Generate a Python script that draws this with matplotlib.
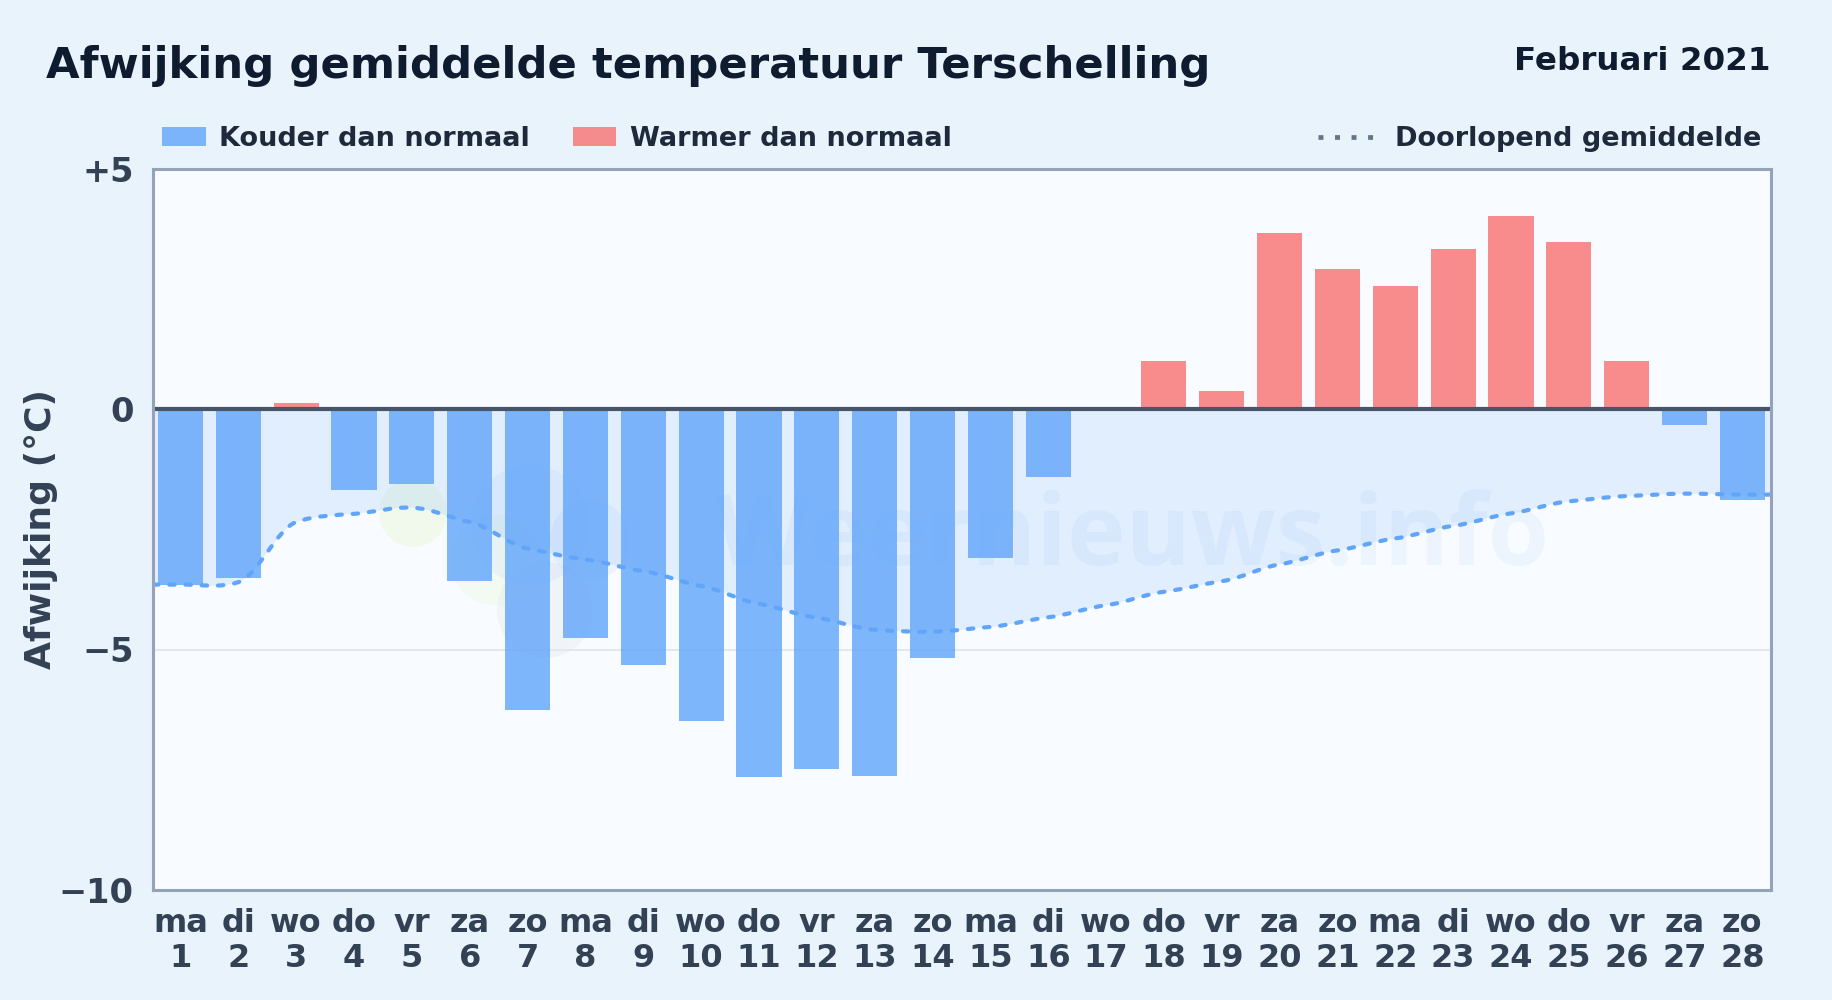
import numpy as np
import matplotlib
matplotlib.use("Agg")
import matplotlib.pyplot as plt
from matplotlib.patches import Circle, PathPatch, Rectangle
from matplotlib.path import Path
from matplotlib.lines import Line2D
from matplotlib.transforms import IdentityTransform

# Values
weekdays = ["ma", "di", "wo", "do", "vr", "za", "zo"] * 4
days = list(range(1, 29))
deviation = [-3.65, -3.52, 0.12, -1.68, -1.55, -3.57, -6.25, -4.76, -5.32, -6.49,
             -7.66, -7.48, -7.63, -5.18, -3.09, -1.41, 0.02, 1.0, 0.37, 3.65,
             2.92, 2.55, 3.33, 4.02, 3.47, 1.0, -0.34, -1.9]
running_mean = [-3.65, -3.6, -2.35, -2.18, -2.05, -2.35, -2.9, -3.13, -3.37, -3.68,
                -4.05, -4.34, -4.59, -4.63, -4.53, -4.33, -4.08, -3.8, -3.58, -3.23,
                -2.94, -2.69, -2.43, -2.17, -1.92, -1.81, -1.76, -1.78]
y_ticks = [5, 0, -5, -10]
y_tick_labels = ["+5", "0", "\u22125", "\u221210"]

BLUE = "#60a5fa"
RED = "#f87171"
DARK = "#0f1b2e"
TEXT = "#334155"
LEGEND_TEXT = "#1e293b"
W, H = 1832, 1000


def spline_path(x, y, tension=0.1):
    """Bezier path through the points, so the mean line bends softly"""
    verts = [(x[0], y[0])]
    codes = [Path.MOVETO]
    for i in range(len(x) - 1):
        prev_y = y[max(i - 1, 0)]
        next_y = y[min(i + 2, len(y) - 1)]
        dx = (x[i + 1] - x[i]) / 3
        verts.append((x[i] + dx, y[i] + (y[i + 1] - prev_y) * tension))
        verts.append((x[i + 1] - dx, y[i + 1] - (next_y - y[i]) * tension))
        verts.append((x[i + 1], y[i + 1]))
        codes += [Path.CURVE4] * 3
    return verts, codes


def logo_blob(ax, x, y, r, color, alpha):
    """Faint circle of the watermark logo, placed in picture pixels"""
    ax.add_patch(Circle((x, H - y), r, transform=IdentityTransform(), facecolor=color,
                        edgecolor="none", alpha=alpha, zorder=0.5))


fig = plt.figure(figsize=(W / 100, H / 100), dpi=100, facecolor="#e8f3fc")
plt.rcParams["font.family"] = "DejaVu Sans"

ax = fig.add_axes([153 / W, 1 - 890 / H, (1771 - 153) / W, (890 - 168.5) / H])
ax.set_facecolor("#f8fbff")
ax.set_xlim(0.525, 28.495)
ax.set_ylim(-10, 5)

# Watermark behind the marks
ax.text(1132 / W, 1 - 565 / H, "Weernieuws.info", transform=fig.transFigure,
        fontsize=71.5, family="Open Sans", fontweight="bold", color=BLUE, alpha=0.08,
        ha="center", va="baseline", zorder=0.5)
logo_blob(ax, 413, 513, 34, "#bef264", 0.12)
logo_blob(ax, 495, 560, 45, "#bef264", 0.08)
logo_blob(ax, 530, 525, 60, "#3b82f6", 0.06)
logo_blob(ax, 590, 540, 40, "#3b82f6", 0.06)
logo_blob(ax, 545, 610, 48, "#64748b", 0.05)

ax.grid(axis="y", color="#dfe5ea", linewidth=1.2, zorder=1)
ax.set_axisbelow(True)

# Area and dotted line of the running mean, running on to both plot edges
x_line = [0.525] + days + [28.495]
y_line = [running_mean[0]] + running_mean + [running_mean[-1]]
verts, codes = spline_path(x_line, y_line)
area_verts = verts + [(28.495, 0), (0.525, 0), verts[0]]
area_codes = codes + [Path.LINETO, Path.LINETO, Path.CLOSEPOLY]
ax.add_patch(PathPatch(Path(area_verts, area_codes), facecolor=BLUE, alpha=0.15,
                       edgecolor="none", zorder=1.5))

colors = [BLUE if v < 0 else RED for v in deviation]
ax.bar(days, deviation, width=0.78, color=colors, alpha=0.8, linewidth=0, zorder=2)

ax.add_patch(PathPatch(Path(verts, codes), facecolor="none", edgecolor=BLUE,
                       linewidth=3, linestyle=(0, (1.3, 2.6)), capstyle="round",
                       zorder=3))
ax.axhline(0, color="#475569", linewidth=3, zorder=4)

for side in ax.spines.values():
    side.set_color("#94a3b8")
    side.set_linewidth(2.2)
    side.set_zorder(5)

ax.set_yticks(y_ticks)
ax.set_yticklabels(y_tick_labels, fontsize=24.2, fontweight="bold", color=TEXT)
ax.set_xticks(days)
ax.set_xticklabels([f"{d}\n{n}" for d, n in zip(weekdays, days)], fontsize=23,
                   fontweight="bold", color=TEXT, linespacing=1.15)
ax.tick_params(axis="y", length=0, pad=14)
ax.tick_params(axis="x", length=0, pad=13)
ax.set_ylabel("Afwijking (\u00b0C)", fontsize=26, fontweight="bold", color=TEXT)
ax.yaxis.set_label_coords(-0.059, 0.5)

fig.text(46 / W, 1 - 66 / H, "Afwijking gemiddelde temperatuur Terschelling",
         fontsize=31.2, fontweight="bold", color=DARK, ha="left", va="center")
fig.text(1771 / W, 1 - 61 / H, "Februari 2021", fontsize=23.4, fontweight="bold",
         color=DARK, ha="right", va="center")

# Legend row above the axes
fig.add_artist(Rectangle((162 / W, 1 - 146 / H), 44 / W, 19 / H, facecolor=BLUE,
                         alpha=0.8, linewidth=0, transform=fig.transFigure))
fig.text(219 / W, 1 - 139 / H, "Kouder dan normaal", fontsize=19.5, fontweight="bold",
         color=LEGEND_TEXT, ha="left", va="center")
fig.add_artist(Rectangle((573 / W, 1 - 146 / H), 43 / W, 19 / H, facecolor=RED,
                         alpha=0.8, linewidth=0, transform=fig.transFigure))
fig.text(630 / W, 1 - 139 / H, "Warmer dan normaal", fontsize=19.5, fontweight="bold",
         color=LEGEND_TEXT, ha="left", va="center")
fig.add_artist(Line2D([1318 / W, 1373 / W], [1 - 137 / H, 1 - 137 / H], color="#64748b",
                      linewidth=3.4, linestyle=(0, (1.05, 2.45)), transform=fig.transFigure))
fig.text(1395 / W, 1 - 139 / H, "Doorlopend gemiddelde", fontsize=19.5, fontweight="bold",
         color=LEGEND_TEXT, ha="left", va="center")

plt.savefig("out.png", dpi=100, facecolor=fig.get_facecolor())
plt.close()
